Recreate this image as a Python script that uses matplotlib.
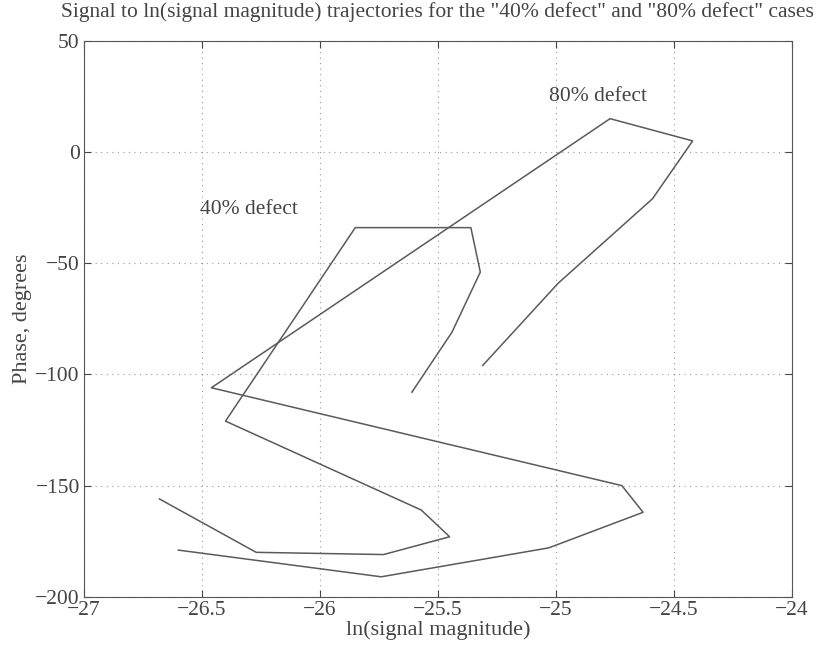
import matplotlib
matplotlib.use("Agg")
import matplotlib.pyplot as plt

# trajectories
x40 = [-26.68, -26.27, -25.73, -25.45, -25.57, -26.40, -25.85, -25.36, -25.32, -25.44, -25.61]
y40 = [-156, -180, -181, -173, -161, -121, -34, -34, -54, -81, -108]

x80 = [-26.60, -25.74, -25.03, -24.63, -24.72, -26.46, -24.77, -24.42, -24.59, -24.99, -25.31]
y80 = [-179, -191, -178, -162, -150, -106, 15, 5, -21, -59, -96]

xticks = [-27, -26.5, -26, -25.5, -25, -24.5, -24]
yticks = [50, 0, -50, -100, -150, -200]

plt.rcParams['font.family'] = ['Liberation Serif', 'DejaVu Serif']

fig = plt.figure(figsize=(8.23, 6.48), dpi=100)
ax = fig.add_axes([0.102, 0.079, 0.860, 0.858])

ax.plot(x40, y40, color='#5a5a5a', lw=1.1)
ax.plot(x80, y80, color='#5a5a5a', lw=1.1)

ax.text(-26.51, -26, '40% defect', fontsize=15.5, color='#444444', va='center')
ax.text(-25.03, 25, '80% defect', fontsize=15.5, color='#444444', va='center')

ax.set_xlim(-27, -24)
ax.set_ylim(-200, 50)
ax.set_xticks(xticks)
ax.set_yticks(yticks)
ax.set_xticklabels(['\u221227', '\u221226.5', '\u221226', '\u221225.5', '\u221225', '\u221224.5', '\u221224'])
ax.set_yticklabels(['50', '0', '\u221250', '\u2212100', '\u2212150', '\u2212200'])
ax.tick_params(direction='in', top=True, right=True, labelsize=15.5, colors='#444444', length=5, pad=3)
ax.grid(True, linestyle=(0, (1, 4)), color='#999999', lw=0.8)
for s in ax.spines.values():
    s.set_color('#555555')

ax.set_xlabel('ln(signal magnitude)', fontsize=16, color='#444444', labelpad=0)
ax.set_ylabel('Phase, degrees', fontsize=16, color='#444444', labelpad=2)
ax.set_title('Signal to ln(signal magnitude) trajectories for the "40% defect" and "80% defect" cases',
             fontsize=15.5, color='#444444', pad=17)

fig.savefig('out.png', dpi=100)
